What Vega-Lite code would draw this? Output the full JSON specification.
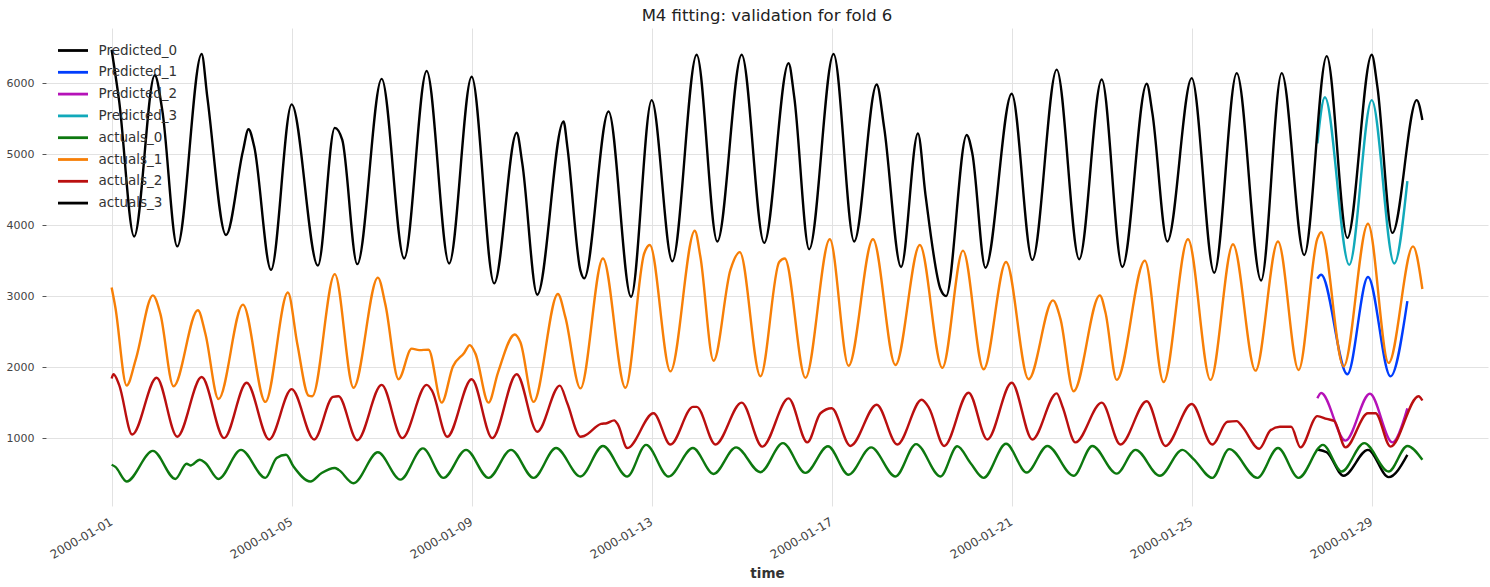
{
  "$schema": "https://vega.github.io/schema/vega-lite/v6.json",
  "autosize": {"type": "none"},
  "padding": {"left": 46, "top": 28, "right": 2, "bottom": 81},
  "width": 1442,
  "height": 478,
  "background": "white",
  "title": {
    "text": "M4 fitting: validation for fold 6",
    "fontSize": 16.5,
    "fontWeight": "normal",
    "color": "#222222",
    "font": "DejaVu Sans",
    "offset": 4
  },
  "data": {
    "values": [
      {"t": "2000-01-27T19:00", "s": "Predicted_0", "v": 840},
      {"t": "2000-01-28T00:00", "s": "Predicted_0", "v": 800},
      {"t": "2000-01-28T09:00", "s": "Predicted_0", "v": 470},
      {"t": "2000-01-28T22:00", "s": "Predicted_0", "v": 835},
      {"t": "2000-01-29T09:00", "s": "Predicted_0", "v": 450},
      {"t": "2000-01-29T19:00", "s": "Predicted_0", "v": 765},
      {"t": "2000-01-27T19:00", "s": "Predicted_1", "v": 3245},
      {"t": "2000-01-27T21:00", "s": "Predicted_1", "v": 3300},
      {"t": "2000-01-28T11:00", "s": "Predicted_1", "v": 1900},
      {"t": "2000-01-28T22:00", "s": "Predicted_1", "v": 3270},
      {"t": "2000-01-29T10:00", "s": "Predicted_1", "v": 1870},
      {"t": "2000-01-29T19:00", "s": "Predicted_1", "v": 2930},
      {"t": "2000-01-27T19:00", "s": "Predicted_2", "v": 1560},
      {"t": "2000-01-27T21:00", "s": "Predicted_2", "v": 1635},
      {"t": "2000-01-28T10:00", "s": "Predicted_2", "v": 965},
      {"t": "2000-01-28T23:00", "s": "Predicted_2", "v": 1625},
      {"t": "2000-01-29T11:00", "s": "Predicted_2", "v": 940},
      {"t": "2000-01-29T19:00", "s": "Predicted_2", "v": 1420},
      {"t": "2000-01-27T19:00", "s": "Predicted_3", "v": 5150},
      {"t": "2000-01-27T23:00", "s": "Predicted_3", "v": 5800},
      {"t": "2000-01-28T12:00", "s": "Predicted_3", "v": 3440},
      {"t": "2000-01-29T00:00", "s": "Predicted_3", "v": 5760},
      {"t": "2000-01-29T12:00", "s": "Predicted_3", "v": 3460},
      {"t": "2000-01-29T19:00", "s": "Predicted_3", "v": 4620},

      {"t": "2000-01-01T00:00", "s": "actuals_0", "v": 625},
      {"t": "2000-01-01T02:00", "s": "actuals_0", "v": 595},
      {"t": "2000-01-01T08:00", "s": "actuals_0", "v": 390},
      {"t": "2000-01-01T22:00", "s": "actuals_0", "v": 820},
      {"t": "2000-01-02T10:00", "s": "actuals_0", "v": 425},
      {"t": "2000-01-02T16:00", "s": "actuals_0", "v": 640},
      {"t": "2000-01-02T18:00", "s": "actuals_0", "v": 615},
      {"t": "2000-01-02T23:00", "s": "actuals_0", "v": 695},
      {"t": "2000-01-03T02:00", "s": "actuals_0", "v": 650},
      {"t": "2000-01-03T09:00", "s": "actuals_0", "v": 425},
      {"t": "2000-01-03T21:00", "s": "actuals_0", "v": 835},
      {"t": "2000-01-04T10:00", "s": "actuals_0", "v": 440},
      {"t": "2000-01-04T16:00", "s": "actuals_0", "v": 720},
      {"t": "2000-01-04T21:00", "s": "actuals_0", "v": 765},
      {"t": "2000-01-05T01:00", "s": "actuals_0", "v": 600},
      {"t": "2000-01-05T10:00", "s": "actuals_0", "v": 390},
      {"t": "2000-01-05T16:00", "s": "actuals_0", "v": 510},
      {"t": "2000-01-05T23:00", "s": "actuals_0", "v": 580},
      {"t": "2000-01-06T01:00", "s": "actuals_0", "v": 555},
      {"t": "2000-01-06T09:00", "s": "actuals_0", "v": 365},
      {"t": "2000-01-06T22:00", "s": "actuals_0", "v": 800},
      {"t": "2000-01-07T10:00", "s": "actuals_0", "v": 415},
      {"t": "2000-01-07T22:00", "s": "actuals_0", "v": 855},
      {"t": "2000-01-08T09:00", "s": "actuals_0", "v": 440},
      {"t": "2000-01-08T21:00", "s": "actuals_0", "v": 835},
      {"t": "2000-01-09T09:00", "s": "actuals_0", "v": 440},
      {"t": "2000-01-09T21:00", "s": "actuals_0", "v": 835},
      {"t": "2000-01-10T09:00", "s": "actuals_0", "v": 440},
      {"t": "2000-01-10T21:00", "s": "actuals_0", "v": 860},
      {"t": "2000-01-11T10:00", "s": "actuals_0", "v": 460},
      {"t": "2000-01-11T22:00", "s": "actuals_0", "v": 890},
      {"t": "2000-01-12T11:00", "s": "actuals_0", "v": 460},
      {"t": "2000-01-12T21:00", "s": "actuals_0", "v": 905},
      {"t": "2000-01-13T09:00", "s": "actuals_0", "v": 460},
      {"t": "2000-01-13T22:00", "s": "actuals_0", "v": 860},
      {"t": "2000-01-14T09:00", "s": "actuals_0", "v": 495},
      {"t": "2000-01-14T21:00", "s": "actuals_0", "v": 870},
      {"t": "2000-01-15T10:00", "s": "actuals_0", "v": 520},
      {"t": "2000-01-15T22:00", "s": "actuals_0", "v": 930},
      {"t": "2000-01-16T10:00", "s": "actuals_0", "v": 510},
      {"t": "2000-01-16T22:00", "s": "actuals_0", "v": 885},
      {"t": "2000-01-17T09:00", "s": "actuals_0", "v": 485},
      {"t": "2000-01-17T21:00", "s": "actuals_0", "v": 870},
      {"t": "2000-01-18T10:00", "s": "actuals_0", "v": 460},
      {"t": "2000-01-18T21:00", "s": "actuals_0", "v": 915},
      {"t": "2000-01-19T10:00", "s": "actuals_0", "v": 460},
      {"t": "2000-01-19T19:00", "s": "actuals_0", "v": 885},
      {"t": "2000-01-20T02:00", "s": "actuals_0", "v": 650},
      {"t": "2000-01-20T09:00", "s": "actuals_0", "v": 440},
      {"t": "2000-01-20T21:00", "s": "actuals_0", "v": 920},
      {"t": "2000-01-21T08:00", "s": "actuals_0", "v": 515},
      {"t": "2000-01-21T19:00", "s": "actuals_0", "v": 890},
      {"t": "2000-01-22T09:00", "s": "actuals_0", "v": 470},
      {"t": "2000-01-22T19:00", "s": "actuals_0", "v": 890},
      {"t": "2000-01-23T08:00", "s": "actuals_0", "v": 500},
      {"t": "2000-01-23T18:00", "s": "actuals_0", "v": 835},
      {"t": "2000-01-24T07:00", "s": "actuals_0", "v": 470},
      {"t": "2000-01-24T19:00", "s": "actuals_0", "v": 835},
      {"t": "2000-01-25T01:00", "s": "actuals_0", "v": 705},
      {"t": "2000-01-25T11:00", "s": "actuals_0", "v": 440},
      {"t": "2000-01-25T20:00", "s": "actuals_0", "v": 845},
      {"t": "2000-01-26T11:00", "s": "actuals_0", "v": 440},
      {"t": "2000-01-26T22:00", "s": "actuals_0", "v": 860},
      {"t": "2000-01-27T09:00", "s": "actuals_0", "v": 440},
      {"t": "2000-01-27T22:00", "s": "actuals_0", "v": 905},
      {"t": "2000-01-28T08:00", "s": "actuals_0", "v": 530},
      {"t": "2000-01-28T20:00", "s": "actuals_0", "v": 930},
      {"t": "2000-01-29T09:00", "s": "actuals_0", "v": 530},
      {"t": "2000-01-29T19:00", "s": "actuals_0", "v": 890},
      {"t": "2000-01-30T03:00", "s": "actuals_0", "v": 695},

      {"t": "2000-01-01T00:00", "s": "actuals_1", "v": 3120},
      {"t": "2000-01-01T02:00", "s": "actuals_1", "v": 2840},
      {"t": "2000-01-01T08:00", "s": "actuals_1", "v": 1740},
      {"t": "2000-01-01T13:00", "s": "actuals_1", "v": 2120},
      {"t": "2000-01-01T22:00", "s": "actuals_1", "v": 3010},
      {"t": "2000-01-02T02:00", "s": "actuals_1", "v": 2750},
      {"t": "2000-01-02T09:00", "s": "actuals_1", "v": 1730},
      {"t": "2000-01-02T22:00", "s": "actuals_1", "v": 2800},
      {"t": "2000-01-03T02:00", "s": "actuals_1", "v": 2470},
      {"t": "2000-01-03T09:00", "s": "actuals_1", "v": 1550},
      {"t": "2000-01-03T22:00", "s": "actuals_1", "v": 2880},
      {"t": "2000-01-04T10:00", "s": "actuals_1", "v": 1510},
      {"t": "2000-01-04T22:00", "s": "actuals_1", "v": 3050},
      {"t": "2000-01-05T03:00", "s": "actuals_1", "v": 2330},
      {"t": "2000-01-05T09:00", "s": "actuals_1", "v": 1600},
      {"t": "2000-01-05T11:00", "s": "actuals_1", "v": 1590},
      {"t": "2000-01-05T23:00", "s": "actuals_1", "v": 3310},
      {"t": "2000-01-06T09:00", "s": "actuals_1", "v": 1710},
      {"t": "2000-01-06T22:00", "s": "actuals_1", "v": 3260},
      {"t": "2000-01-07T02:00", "s": "actuals_1", "v": 2880},
      {"t": "2000-01-07T09:00", "s": "actuals_1", "v": 1830},
      {"t": "2000-01-07T16:00", "s": "actuals_1", "v": 2260},
      {"t": "2000-01-07T20:00", "s": "actuals_1", "v": 2240},
      {"t": "2000-01-08T01:00", "s": "actuals_1", "v": 2245},
      {"t": "2000-01-08T08:00", "s": "actuals_1", "v": 1500},
      {"t": "2000-01-08T14:00", "s": "actuals_1", "v": 2010},
      {"t": "2000-01-08T20:00", "s": "actuals_1", "v": 2200},
      {"t": "2000-01-08T23:00", "s": "actuals_1", "v": 2310},
      {"t": "2000-01-09T02:00", "s": "actuals_1", "v": 2190},
      {"t": "2000-01-09T09:00", "s": "actuals_1", "v": 1500},
      {"t": "2000-01-09T14:00", "s": "actuals_1", "v": 1920},
      {"t": "2000-01-09T23:00", "s": "actuals_1", "v": 2460},
      {"t": "2000-01-10T02:00", "s": "actuals_1", "v": 2350},
      {"t": "2000-01-10T09:00", "s": "actuals_1", "v": 1510},
      {"t": "2000-01-10T22:00", "s": "actuals_1", "v": 3030},
      {"t": "2000-01-11T02:00", "s": "actuals_1", "v": 2700},
      {"t": "2000-01-11T10:00", "s": "actuals_1", "v": 1700},
      {"t": "2000-01-11T22:00", "s": "actuals_1", "v": 3530},
      {"t": "2000-01-12T10:00", "s": "actuals_1", "v": 1710},
      {"t": "2000-01-12T20:00", "s": "actuals_1", "v": 3600},
      {"t": "2000-01-12T23:00", "s": "actuals_1", "v": 3720},
      {"t": "2000-01-13T10:00", "s": "actuals_1", "v": 1940},
      {"t": "2000-01-13T23:00", "s": "actuals_1", "v": 3920},
      {"t": "2000-01-14T02:00", "s": "actuals_1", "v": 3550},
      {"t": "2000-01-14T09:00", "s": "actuals_1", "v": 2090},
      {"t": "2000-01-14T18:00", "s": "actuals_1", "v": 3370},
      {"t": "2000-01-14T23:00", "s": "actuals_1", "v": 3620},
      {"t": "2000-01-15T10:00", "s": "actuals_1", "v": 1870},
      {"t": "2000-01-15T20:00", "s": "actuals_1", "v": 3480},
      {"t": "2000-01-15T23:00", "s": "actuals_1", "v": 3530},
      {"t": "2000-01-16T10:00", "s": "actuals_1", "v": 1850},
      {"t": "2000-01-16T23:00", "s": "actuals_1", "v": 3800},
      {"t": "2000-01-17T09:00", "s": "actuals_1", "v": 2020},
      {"t": "2000-01-17T22:00", "s": "actuals_1", "v": 3800},
      {"t": "2000-01-18T10:00", "s": "actuals_1", "v": 2030},
      {"t": "2000-01-18T23:00", "s": "actuals_1", "v": 3720},
      {"t": "2000-01-19T11:00", "s": "actuals_1", "v": 1990},
      {"t": "2000-01-19T22:00", "s": "actuals_1", "v": 3640},
      {"t": "2000-01-20T09:00", "s": "actuals_1", "v": 1970},
      {"t": "2000-01-20T21:00", "s": "actuals_1", "v": 3480},
      {"t": "2000-01-21T09:00", "s": "actuals_1", "v": 1830},
      {"t": "2000-01-21T22:00", "s": "actuals_1", "v": 2940},
      {"t": "2000-01-22T02:00", "s": "actuals_1", "v": 2680},
      {"t": "2000-01-22T09:00", "s": "actuals_1", "v": 1660},
      {"t": "2000-01-22T23:00", "s": "actuals_1", "v": 3010},
      {"t": "2000-01-23T02:00", "s": "actuals_1", "v": 2770},
      {"t": "2000-01-23T08:00", "s": "actuals_1", "v": 1820},
      {"t": "2000-01-23T23:00", "s": "actuals_1", "v": 3500},
      {"t": "2000-01-24T09:00", "s": "actuals_1", "v": 1790},
      {"t": "2000-01-24T22:00", "s": "actuals_1", "v": 3800},
      {"t": "2000-01-25T10:00", "s": "actuals_1", "v": 1820},
      {"t": "2000-01-25T22:00", "s": "actuals_1", "v": 3730},
      {"t": "2000-01-26T10:00", "s": "actuals_1", "v": 1950},
      {"t": "2000-01-26T22:00", "s": "actuals_1", "v": 3770},
      {"t": "2000-01-27T09:00", "s": "actuals_1", "v": 1960},
      {"t": "2000-01-27T19:00", "s": "actuals_1", "v": 3810},
      {"t": "2000-01-27T21:00", "s": "actuals_1", "v": 3900},
      {"t": "2000-01-28T09:00", "s": "actuals_1", "v": 2010},
      {"t": "2000-01-28T22:00", "s": "actuals_1", "v": 4020},
      {"t": "2000-01-29T09:00", "s": "actuals_1", "v": 2060},
      {"t": "2000-01-29T22:00", "s": "actuals_1", "v": 3700},
      {"t": "2000-01-30T03:00", "s": "actuals_1", "v": 3100},

      {"t": "2000-01-01T00:00", "s": "actuals_2", "v": 1840},
      {"t": "2000-01-01T01:00", "s": "actuals_2", "v": 1900},
      {"t": "2000-01-01T04:00", "s": "actuals_2", "v": 1750},
      {"t": "2000-01-01T11:00", "s": "actuals_2", "v": 1050},
      {"t": "2000-01-02T00:00", "s": "actuals_2", "v": 1850},
      {"t": "2000-01-02T11:00", "s": "actuals_2", "v": 1020},
      {"t": "2000-01-03T00:00", "s": "actuals_2", "v": 1860},
      {"t": "2000-01-03T12:00", "s": "actuals_2", "v": 1000},
      {"t": "2000-01-04T00:00", "s": "actuals_2", "v": 1780},
      {"t": "2000-01-04T12:00", "s": "actuals_2", "v": 980},
      {"t": "2000-01-05T00:00", "s": "actuals_2", "v": 1690},
      {"t": "2000-01-05T12:00", "s": "actuals_2", "v": 980},
      {"t": "2000-01-05T22:00", "s": "actuals_2", "v": 1580},
      {"t": "2000-01-06T01:00", "s": "actuals_2", "v": 1590},
      {"t": "2000-01-06T11:00", "s": "actuals_2", "v": 970},
      {"t": "2000-01-07T00:00", "s": "actuals_2", "v": 1750},
      {"t": "2000-01-07T11:00", "s": "actuals_2", "v": 1000},
      {"t": "2000-01-08T00:00", "s": "actuals_2", "v": 1750},
      {"t": "2000-01-08T03:00", "s": "actuals_2", "v": 1660},
      {"t": "2000-01-08T11:00", "s": "actuals_2", "v": 1020},
      {"t": "2000-01-09T00:00", "s": "actuals_2", "v": 1830},
      {"t": "2000-01-09T11:00", "s": "actuals_2", "v": 1000},
      {"t": "2000-01-10T00:00", "s": "actuals_2", "v": 1900},
      {"t": "2000-01-10T11:00", "s": "actuals_2", "v": 1090},
      {"t": "2000-01-10T23:00", "s": "actuals_2", "v": 1740},
      {"t": "2000-01-11T03:00", "s": "actuals_2", "v": 1490},
      {"t": "2000-01-11T10:00", "s": "actuals_2", "v": 1020},
      {"t": "2000-01-11T12:00", "s": "actuals_2", "v": 1030},
      {"t": "2000-01-11T21:00", "s": "actuals_2", "v": 1200},
      {"t": "2000-01-12T00:00", "s": "actuals_2", "v": 1210},
      {"t": "2000-01-12T04:00", "s": "actuals_2", "v": 1250},
      {"t": "2000-01-12T06:00", "s": "actuals_2", "v": 1190},
      {"t": "2000-01-12T11:00", "s": "actuals_2", "v": 860},
      {"t": "2000-01-13T01:00", "s": "actuals_2", "v": 1350},
      {"t": "2000-01-13T10:00", "s": "actuals_2", "v": 910},
      {"t": "2000-01-13T22:00", "s": "actuals_2", "v": 1440},
      {"t": "2000-01-14T00:00", "s": "actuals_2", "v": 1440},
      {"t": "2000-01-14T10:00", "s": "actuals_2", "v": 910},
      {"t": "2000-01-15T00:00", "s": "actuals_2", "v": 1500},
      {"t": "2000-01-15T11:00", "s": "actuals_2", "v": 880},
      {"t": "2000-01-16T01:00", "s": "actuals_2", "v": 1560},
      {"t": "2000-01-16T11:00", "s": "actuals_2", "v": 940},
      {"t": "2000-01-16T18:00", "s": "actuals_2", "v": 1350},
      {"t": "2000-01-17T00:00", "s": "actuals_2", "v": 1420},
      {"t": "2000-01-17T10:00", "s": "actuals_2", "v": 890},
      {"t": "2000-01-18T00:00", "s": "actuals_2", "v": 1470},
      {"t": "2000-01-18T11:00", "s": "actuals_2", "v": 910},
      {"t": "2000-01-19T00:00", "s": "actuals_2", "v": 1540},
      {"t": "2000-01-19T04:00", "s": "actuals_2", "v": 1420},
      {"t": "2000-01-19T12:00", "s": "actuals_2", "v": 890},
      {"t": "2000-01-20T01:00", "s": "actuals_2", "v": 1640},
      {"t": "2000-01-20T11:00", "s": "actuals_2", "v": 980},
      {"t": "2000-01-21T00:00", "s": "actuals_2", "v": 1780},
      {"t": "2000-01-21T11:00", "s": "actuals_2", "v": 980},
      {"t": "2000-01-22T00:00", "s": "actuals_2", "v": 1630},
      {"t": "2000-01-22T03:00", "s": "actuals_2", "v": 1450},
      {"t": "2000-01-22T10:00", "s": "actuals_2", "v": 940},
      {"t": "2000-01-23T00:00", "s": "actuals_2", "v": 1500},
      {"t": "2000-01-23T10:00", "s": "actuals_2", "v": 910},
      {"t": "2000-01-24T00:00", "s": "actuals_2", "v": 1520},
      {"t": "2000-01-24T10:00", "s": "actuals_2", "v": 890},
      {"t": "2000-01-25T00:00", "s": "actuals_2", "v": 1480},
      {"t": "2000-01-25T11:00", "s": "actuals_2", "v": 910},
      {"t": "2000-01-25T19:00", "s": "actuals_2", "v": 1230},
      {"t": "2000-01-26T00:00", "s": "actuals_2", "v": 1240},
      {"t": "2000-01-26T03:00", "s": "actuals_2", "v": 1160},
      {"t": "2000-01-26T12:00", "s": "actuals_2", "v": 850},
      {"t": "2000-01-26T18:00", "s": "actuals_2", "v": 1110},
      {"t": "2000-01-26T23:00", "s": "actuals_2", "v": 1160},
      {"t": "2000-01-27T05:00", "s": "actuals_2", "v": 1160},
      {"t": "2000-01-27T10:00", "s": "actuals_2", "v": 870},
      {"t": "2000-01-27T19:00", "s": "actuals_2", "v": 1310},
      {"t": "2000-01-28T00:00", "s": "actuals_2", "v": 1270},
      {"t": "2000-01-28T04:00", "s": "actuals_2", "v": 1240},
      {"t": "2000-01-28T10:00", "s": "actuals_2", "v": 870},
      {"t": "2000-01-28T22:00", "s": "actuals_2", "v": 1350},
      {"t": "2000-01-29T02:00", "s": "actuals_2", "v": 1350},
      {"t": "2000-01-29T10:00", "s": "actuals_2", "v": 880},
      {"t": "2000-01-30T01:00", "s": "actuals_2", "v": 1590},
      {"t": "2000-01-30T03:00", "s": "actuals_2", "v": 1530},

      {"t": "2000-01-01T00:00", "s": "actuals_3", "v": 6470},
      {"t": "2000-01-01T04:00", "s": "actuals_3", "v": 5750},
      {"t": "2000-01-01T12:00", "s": "actuals_3", "v": 3840},
      {"t": "2000-01-01T23:00", "s": "actuals_3", "v": 6110},
      {"t": "2000-01-02T03:00", "s": "actuals_3", "v": 5620},
      {"t": "2000-01-02T11:00", "s": "actuals_3", "v": 3700},
      {"t": "2000-01-03T00:00", "s": "actuals_3", "v": 6410},
      {"t": "2000-01-03T03:00", "s": "actuals_3", "v": 5810},
      {"t": "2000-01-03T13:00", "s": "actuals_3", "v": 3860},
      {"t": "2000-01-03T22:00", "s": "actuals_3", "v": 5040},
      {"t": "2000-01-04T01:00", "s": "actuals_3", "v": 5350},
      {"t": "2000-01-04T04:00", "s": "actuals_3", "v": 5110},
      {"t": "2000-01-04T13:00", "s": "actuals_3", "v": 3370},
      {"t": "2000-01-05T00:00", "s": "actuals_3", "v": 5700},
      {"t": "2000-01-05T14:00", "s": "actuals_3", "v": 3430},
      {"t": "2000-01-05T23:00", "s": "actuals_3", "v": 5370},
      {"t": "2000-01-06T03:00", "s": "actuals_3", "v": 5200},
      {"t": "2000-01-06T11:00", "s": "actuals_3", "v": 3450},
      {"t": "2000-01-07T00:00", "s": "actuals_3", "v": 6060},
      {"t": "2000-01-07T12:00", "s": "actuals_3", "v": 3530},
      {"t": "2000-01-08T00:00", "s": "actuals_3", "v": 6170},
      {"t": "2000-01-08T12:00", "s": "actuals_3", "v": 3460},
      {"t": "2000-01-09T00:00", "s": "actuals_3", "v": 6090},
      {"t": "2000-01-09T12:00", "s": "actuals_3", "v": 3180},
      {"t": "2000-01-10T00:00", "s": "actuals_3", "v": 5300},
      {"t": "2000-01-10T03:00", "s": "actuals_3", "v": 4870},
      {"t": "2000-01-10T11:00", "s": "actuals_3", "v": 3020},
      {"t": "2000-01-11T01:00", "s": "actuals_3", "v": 5460},
      {"t": "2000-01-11T03:00", "s": "actuals_3", "v": 5110},
      {"t": "2000-01-11T10:00", "s": "actuals_3", "v": 3360},
      {"t": "2000-01-11T12:00", "s": "actuals_3", "v": 3250},
      {"t": "2000-01-12T01:00", "s": "actuals_3", "v": 5600},
      {"t": "2000-01-12T13:00", "s": "actuals_3", "v": 2990},
      {"t": "2000-01-13T00:00", "s": "actuals_3", "v": 5760},
      {"t": "2000-01-13T11:00", "s": "actuals_3", "v": 3490},
      {"t": "2000-01-14T00:00", "s": "actuals_3", "v": 6400},
      {"t": "2000-01-14T11:00", "s": "actuals_3", "v": 3770},
      {"t": "2000-01-15T00:00", "s": "actuals_3", "v": 6400},
      {"t": "2000-01-15T12:00", "s": "actuals_3", "v": 3750},
      {"t": "2000-01-16T01:00", "s": "actuals_3", "v": 6280},
      {"t": "2000-01-16T04:00", "s": "actuals_3", "v": 5810},
      {"t": "2000-01-16T12:00", "s": "actuals_3", "v": 3660},
      {"t": "2000-01-17T01:00", "s": "actuals_3", "v": 6410},
      {"t": "2000-01-17T12:00", "s": "actuals_3", "v": 3770},
      {"t": "2000-01-18T00:00", "s": "actuals_3", "v": 5980},
      {"t": "2000-01-18T04:00", "s": "actuals_3", "v": 5370},
      {"t": "2000-01-18T13:00", "s": "actuals_3", "v": 3410},
      {"t": "2000-01-18T22:00", "s": "actuals_3", "v": 5290},
      {"t": "2000-01-19T02:00", "s": "actuals_3", "v": 4430},
      {"t": "2000-01-19T10:00", "s": "actuals_3", "v": 3100},
      {"t": "2000-01-19T13:00", "s": "actuals_3", "v": 3000},
      {"t": "2000-01-20T00:00", "s": "actuals_3", "v": 5270},
      {"t": "2000-01-20T03:00", "s": "actuals_3", "v": 5010},
      {"t": "2000-01-20T10:00", "s": "actuals_3", "v": 3400},
      {"t": "2000-01-21T00:00", "s": "actuals_3", "v": 5850},
      {"t": "2000-01-21T11:00", "s": "actuals_3", "v": 3510},
      {"t": "2000-01-22T00:00", "s": "actuals_3", "v": 6190},
      {"t": "2000-01-22T12:00", "s": "actuals_3", "v": 3520},
      {"t": "2000-01-23T00:00", "s": "actuals_3", "v": 6050},
      {"t": "2000-01-23T11:00", "s": "actuals_3", "v": 3410},
      {"t": "2000-01-24T00:00", "s": "actuals_3", "v": 5990},
      {"t": "2000-01-24T03:00", "s": "actuals_3", "v": 5580},
      {"t": "2000-01-24T11:00", "s": "actuals_3", "v": 3770},
      {"t": "2000-01-25T00:00", "s": "actuals_3", "v": 6070},
      {"t": "2000-01-25T12:00", "s": "actuals_3", "v": 3330},
      {"t": "2000-01-26T00:00", "s": "actuals_3", "v": 6140},
      {"t": "2000-01-26T13:00", "s": "actuals_3", "v": 3220},
      {"t": "2000-01-27T00:00", "s": "actuals_3", "v": 6140},
      {"t": "2000-01-27T12:00", "s": "actuals_3", "v": 3580},
      {"t": "2000-01-28T00:00", "s": "actuals_3", "v": 6380},
      {"t": "2000-01-28T11:00", "s": "actuals_3", "v": 3820},
      {"t": "2000-01-29T00:00", "s": "actuals_3", "v": 6400},
      {"t": "2000-01-29T03:00", "s": "actuals_3", "v": 5950},
      {"t": "2000-01-29T11:00", "s": "actuals_3", "v": 3890},
      {"t": "2000-01-30T00:00", "s": "actuals_3", "v": 5760},
      {"t": "2000-01-30T03:00", "s": "actuals_3", "v": 5480}
    ]
  },
  "mark": {"type": "line", "interpolate": "monotone", "strokeWidth": 2.4},
  "encoding": {
    "x": {
      "field": "t",
      "type": "temporal",
      "title": "time",
      "scale": {
        "domain": [
          {"year": 1999, "month": 12, "date": 30, "hours": 13},
          {"year": 2000, "month": 1, "date": 31, "hours": 14}
        ]
      },
      "axis": {
        "values": [
          {"year": 2000, "month": 1, "date": 1},
          {"year": 2000, "month": 1, "date": 5},
          {"year": 2000, "month": 1, "date": 9},
          {"year": 2000, "month": 1, "date": 13},
          {"year": 2000, "month": 1, "date": 17},
          {"year": 2000, "month": 1, "date": 21},
          {"year": 2000, "month": 1, "date": 25},
          {"year": 2000, "month": 1, "date": 29}
        ],
        "format": "%Y-%m-%d",
        "labelAngle": -30,
        "labelAlign": "right",
        "labelBaseline": "top",
        "labelPadding": 10,
        "labelOffset": -3,
        "labelFontSize": 12,
        "ticks": false,
        "titleFontWeight": "bold",
        "titleFontSize": 13.5,
        "titleColor": "#333333",
        "titlePadding": 6
      }
    },
    "y": {
      "field": "v",
      "type": "quantitative",
      "scale": {"domain": [44, 6776], "nice": false, "zero": false},
      "axis": {
        "values": [1000, 2000, 3000, 4000, 5000, 6000],
        "format": "d",
        "title": null,
        "tickSize": 4,
        "tickColor": "#555555",
        "labelPadding": 8
      }
    },
    "color": {
      "field": "s",
      "type": "nominal",
      "scale": {
        "domain": ["Predicted_0", "Predicted_1", "Predicted_2", "Predicted_3", "actuals_0", "actuals_1", "actuals_2", "actuals_3"],
        "range": ["#000000", "#003DFD", "#b512b8", "#11a9ba", "#0d780f", "#f77f07", "#ba0f0f", "#000000"]
      },
      "legend": {
        "title": null,
        "orient": "none",
        "legendX": 18,
        "legendY": 13.5,
        "padding": 0,
        "symbolType": "M-2,0L2,0",
        "symbolSize": 225,
        "symbolStrokeWidth": 2.8,
        "labelFontSize": 13.5,
        "labelColor": "#333333",
        "labelOffset": 16.5,
        "rowPadding": 5.8
      }
    }
  },
  "config": {
    "view": {"stroke": null},
    "font": "DejaVu Sans",
    "axis": {
      "domain": false,
      "grid": true,
      "gridColor": "#e2e2e2",
      "gridWidth": 1,
      "labelFont": "DejaVu Sans",
      "labelFontSize": 11,
      "labelColor": "#444444",
      "titleFont": "DejaVu Sans"
    },
    "legend": {"labelFont": "DejaVu Sans"}
  }
}
